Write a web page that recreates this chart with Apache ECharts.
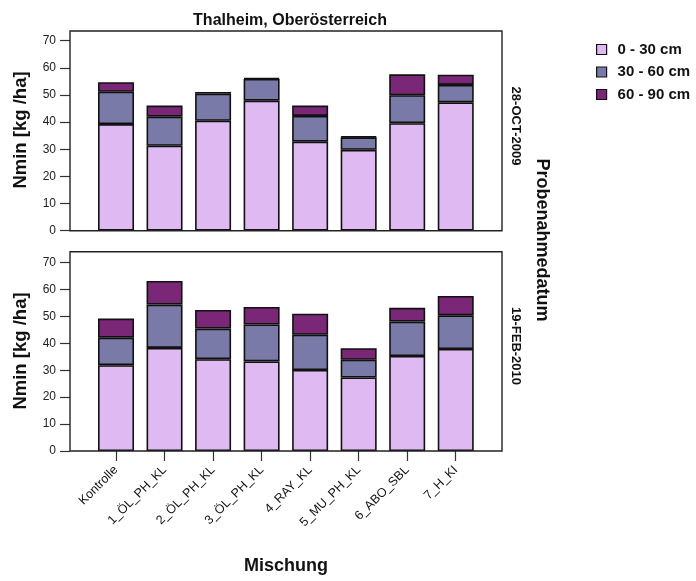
<!DOCTYPE html>
<html><head><meta charset="utf-8">
<script src="https://cdn.jsdelivr.net/npm/echarts@6/dist/echarts.min.js"></script>
<style>html,body{margin:0;padding:0;background:#fff}#c{width:696px;height:581px}</style>
</head><body><div id="c"></div>
<script>
const categories = ['Kontrolle','1_ÖL_PH_KL','2_ÖL_PH_KL','3_ÖL_PH_KL','4_RAY_KL','5_MU_PH_KL','6_ABO_SBL','7_H_KI'];
const seriesNames = ['0 - 30 cm','30 - 60 cm','60 - 90 cm'];
const dates = ['28-OCT-2009','19-FEB-2010'];
const yTicks = [0,10,20,30,40,50,60,70];
// 28-OCT-2009
const oct0_30  = [39.3, 31.3, 40.5, 47.9, 32.8, 29.8, 39.6, 47.3];
const oct30_60 = [11.9, 10.7, 10.0,  8.0,  9.5,  4.6, 10.3,  6.4];
const oct60_90 = [ 3.5,  4.1,  0.6,  0.3,  3.8,  0.3,  7.7,  3.8];
// 19-FEB-2010
const feb0_30  = [31.9, 38.3, 34.1, 33.3, 30.1, 27.3, 35.3, 37.9];
const feb30_60 = [10.2, 16.1, 11.4, 13.7, 13.1,  6.6, 12.8, 12.5];
const feb60_90 = [ 7.1,  8.8,  6.9,  6.5,  7.8,  4.3,  5.1,  7.2];

const colors = ['#dfb9f2','#7a7aa8','#7b2778'];
const FONT = 'Liberation Sans, Arial, sans-serif';

const chart = echarts.init(document.getElementById('c'), null, {renderer:'canvas'});

function yAxis(gi){
  return {
    type:'value', gridIndex:gi, min:0, max:70, interval:10, offset:21.75,
    axisLine:{show:false},
    axisTick:{show:true, length:10, lineStyle:{color:'#333', width:1.2}},
    axisLabel:{color:'#222', fontSize:12, fontFamily:FONT, margin:14,
      formatter:v=> yTicks.indexOf(v)>=0 ? String(v) : ''},
    splitLine:{show:false}
  };
}
function xAxis(gi, showLabels){
  return {
    type:'category', gridIndex:gi, data:categories,
    axisLine:{show:false},
    axisTick:{show:showLabels, alignWithLabel:true, length:10, lineStyle:{color:'#333', width:1.2}},
    axisLabel:{show:showLabels, rotate:45, fontSize:12.5, color:'#111', fontFamily:FONT, margin:17},
    splitLine:{show:false}
  };
}
function bars(gi, arrs){
  return arrs.map((d,k)=>({
    type:'bar', name:seriesNames[k], xAxisIndex:gi, yAxisIndex:gi, stack:'s'+gi,
    data:d, barWidth:36,
    itemStyle:{color:colors[k], borderColor:'#111', borderWidth:1.6},
    emphasis:{disabled:true}
  }));
}

const option = {
  animation:false,
  color:colors,
  title:{text:'Thalheim, Oberösterreich', left:285, top:8, textAlign:'center',
    textStyle:{fontSize:16, fontWeight:'bold', color:'#111', fontFamily:FONT}},
  legend:{orient:'vertical', left:591, top:37, itemWidth:10, itemHeight:10, itemGap:7.5,
    icon:'rect', data:seriesNames,
    itemStyle:{borderColor:'#111', borderWidth:1.2},
    textStyle:{fontSize:15, fontWeight:'bold', color:'#111', fontFamily:FONT, padding:[0,0,0,6]}},
  grid:[
    {left:91.75, top:40.7, width:388.25, height:190, containLabel:false, outerBoundsMode:'none'},
    {left:91.75, top:262.6, width:388.25, height:188.4, containLabel:false, outerBoundsMode:'none'}
  ],
  xAxis:[xAxis(0,false), xAxis(1,true)],
  yAxis:[yAxis(0), yAxis(1)],
  series:[...bars(0,[oct0_30,oct30_60,oct60_90]), ...bars(1,[feb0_30,feb30_60,feb60_90])],
  graphic:[
    {type:'rect', shape:{x:70, y:31, width:432, height:199.7}, z:100, silent:true,
      style:{fill:'none', stroke:'#222', lineWidth:1.4}},
    {type:'rect', shape:{x:70, y:251.7, width:432, height:199.3}, z:100, silent:true,
      style:{fill:'none', stroke:'#222', lineWidth:1.4}},
    {type:'text', x:21, y:130, rotation:Math.PI/2, z:100,
      style:{text:'Nmin [kg /ha]', fontSize:18.5, fontWeight:'bold', fill:'#111', fontFamily:FONT, align:'center', verticalAlign:'middle'}},
    {type:'text', x:21, y:351, rotation:Math.PI/2, z:100,
      style:{text:'Nmin [kg /ha]', fontSize:18.5, fontWeight:'bold', fill:'#111', fontFamily:FONT, align:'center', verticalAlign:'middle'}},
    {type:'text', x:516, y:126, rotation:-Math.PI/2, z:100,
      style:{text:dates[0], fontSize:13, fontWeight:'bold', fill:'#111', fontFamily:FONT, align:'center', verticalAlign:'middle'}},
    {type:'text', x:516, y:346, rotation:-Math.PI/2, z:100,
      style:{text:dates[1], fontSize:13, fontWeight:'bold', fill:'#111', fontFamily:FONT, align:'center', verticalAlign:'middle'}},
    {type:'text', x:542, y:240, rotation:-Math.PI/2, z:100,
      style:{text:'Probenahmedatum', fontSize:18, fontWeight:'bold', fill:'#111', fontFamily:FONT, align:'center', verticalAlign:'middle'}},
    {type:'text', x:286, y:566, z:100,
      style:{text:'Mischung', fontSize:18, fontWeight:'bold', fill:'#111', fontFamily:FONT, align:'center', verticalAlign:'middle'}}
  ]
};
chart.setOption(option);
</script></body></html>
